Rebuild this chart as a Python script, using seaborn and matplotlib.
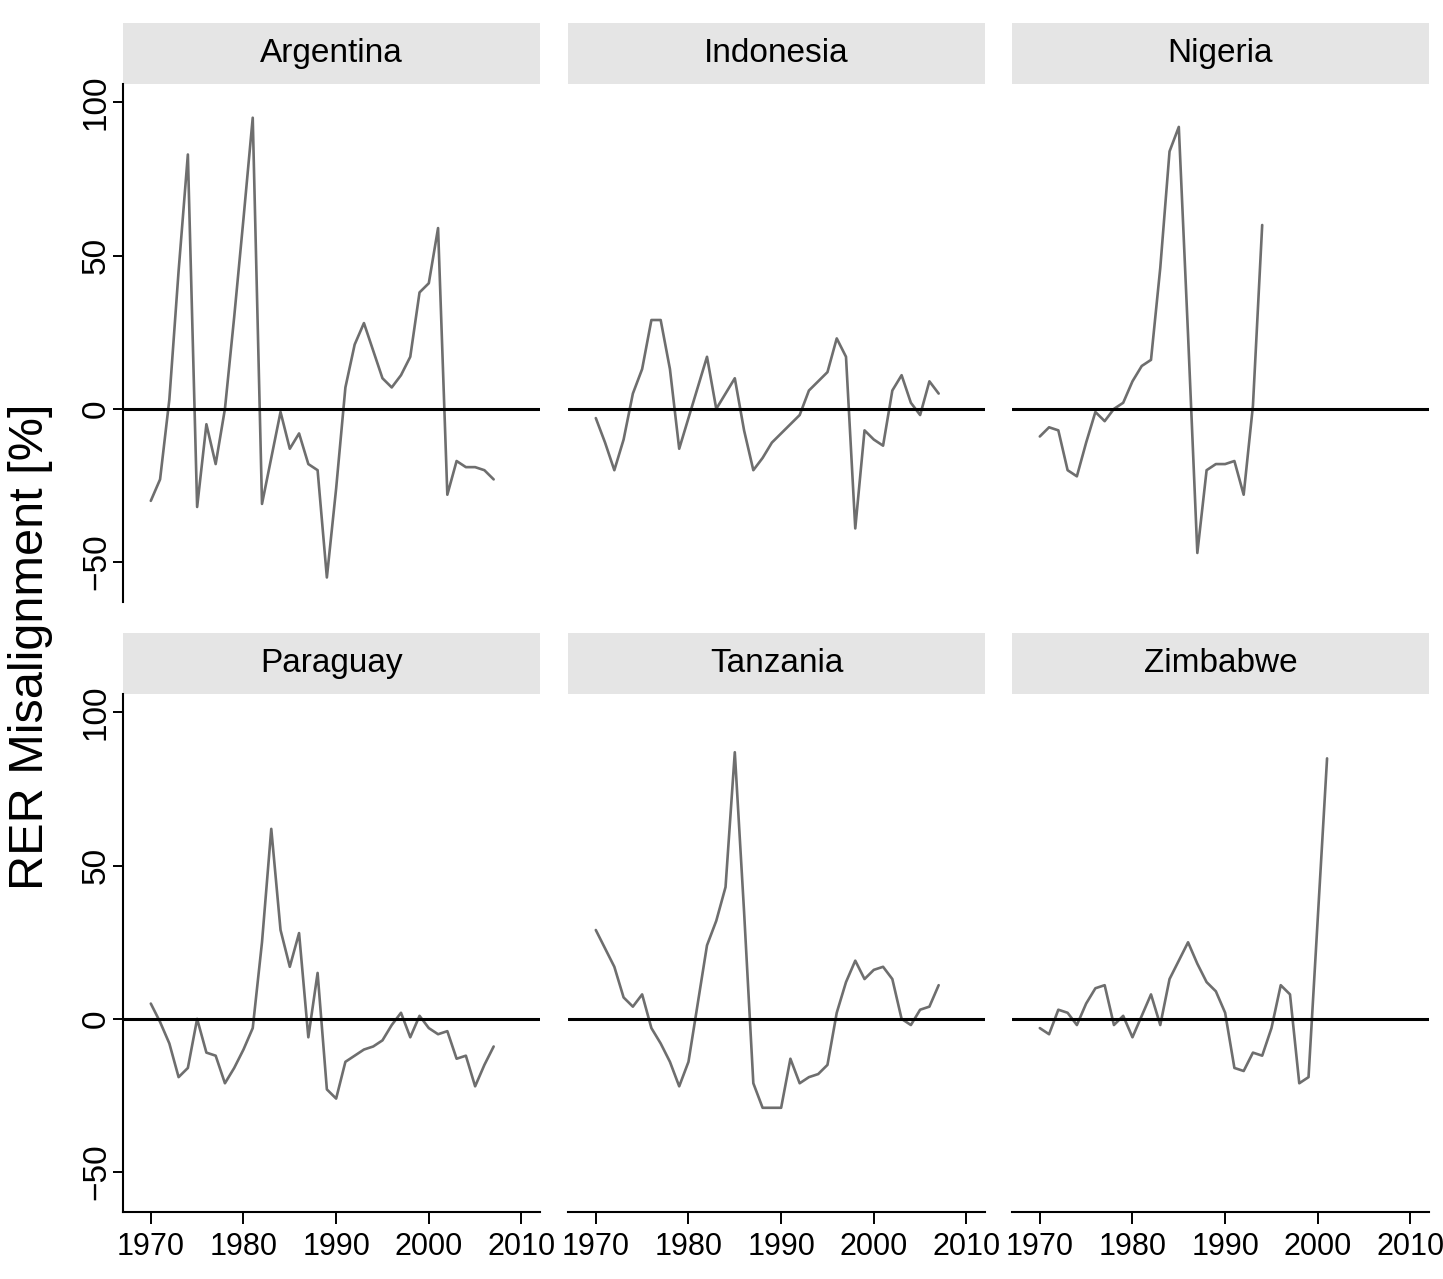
import matplotlib
matplotlib.use("Agg")
import matplotlib.pyplot as plt
from matplotlib import font_manager
from matplotlib.patches import Rectangle
import pandas as pd
import seaborn as sns

# Real exchange rate misalignment (%) by country, one value per year from 1970
countries = ["Argentina", "Indonesia", "Nigeria", "Paraguay", "Tanzania", "Zimbabwe"]
start_year = 1970

argentina = [-30, -23, 3, 45, 83, -32, -5, -18, 0, 30,
             62, 95, -31, -16, -1, -13, -8, -18, -20, -55,
             -26, 7, 21, 28, 19, 10, 7, 11, 17, 38,
             41, 59, -28, -17, -19, -19, -20, -23]
indonesia = [-3, -11, -20, -10, 5, 13, 29, 29, 13, -13,
             -3, 7, 17, 0, 5, 10, -7, -20, -16, -11,
             -8, -5, -2, 6, 9, 12, 23, 17, -39, -7,
             -10, -12, 6, 11, 2, -2, 9, 5]
nigeria = [-9, -6, -7, -20, -22, -11, -1, -4, 0, 2,
           9, 14, 16, 46, 84, 92, 24, -47, -20, -18,
           -18, -17, -28, 1, 60]
paraguay = [5, -1, -8, -19, -16, 0, -11, -12, -21, -16,
            -10, -3, 25, 62, 29, 17, 28, -6, 15, -23,
            -26, -14, -12, -10, -9, -7, -2, 2, -6, 1,
            -3, -5, -4, -13, -12, -22, -15, -9]
tanzania = [29, 23, 17, 7, 4, 8, -3, -8, -14, -22,
            -14, 5, 24, 32, 43, 87, 35, -21, -29, -29,
            -29, -13, -21, -19, -18, -15, 2, 12, 19, 13,
            16, 17, 13, 0, -2, 3, 4, 11]
zimbabwe = [-3, -5, 3, 2, -2, 5, 10, 11, -2, 1,
            -6, 1, 8, -2, 13, 19, 25, 18, 12, 9,
            2, -16, -17, -11, -12, -3, 11, 8, -21, -19,
            33, 85]

year_ticks = [1970, 1980, 1990, 2000, 2010]
value_ticks = [-50, 0, 50, 100]
y_label = "RER Misalignment [%]"

series = dict(zip(countries, [argentina, indonesia, nigeria, paraguay, tanzania, zimbabwe]))
records = []
for name, values in series.items():
    for i, v in enumerate(values):
        records.append((name, start_year + i, v))
df = pd.DataFrame(records, columns=["country", "year", "misalignment"])

sns.set_theme(style="ticks")
installed = {f.name for f in font_manager.fontManager.ttflist}
plt.rcParams["font.family"] = ["Liberation Sans", "DejaVu Sans"]
if "Liberation Sans Narrow" in installed:
    narrow_family, tick_size, strip_size = ["Liberation Sans Narrow", "Liberation Sans"], 26, 28
else:
    narrow_family, tick_size, strip_size = ["Liberation Sans", "DejaVu Sans"], 22, 24

g = sns.relplot(
    data=df, x="year", y="misalignment",
    col="country", col_wrap=3, col_order=countries,
    kind="line", color="#6e6e6e", linewidth=1.9,
    height=5, aspect=0.8,
    facet_kws=dict(sharex=True, sharey=True),
)
fig = g.figure
fig.set_size_inches(14.43, 12.79)
fig.set_dpi(100)

W, H = 1443, 1279
col_left = [123, 568, 1012]
panel_w = 417
row_top = [84, 694]
panel_h = 518
strip_h = 61

for idx, ax in enumerate(g.axes.flat):
    r, c = divmod(idx, 3)
    name = countries[idx]
    ax.set_position([col_left[c] / W, 1 - (row_top[r] + panel_h) / H,
                     panel_w / W, panel_h / H])
    ax.set_xlim(1967, 2012)
    ax.set_ylim(-63, 106)
    ax.axhline(0, color="black", linewidth=2.2, zorder=3)
    ax.set_title("")
    ax.set_xlabel("")
    ax.set_ylabel("")

    ax.spines["top"].set_visible(False)
    ax.spines["right"].set_visible(False)
    ax.spines["left"].set_visible(c == 0)
    ax.spines["bottom"].set_visible(r == 1)
    for side in ("left", "bottom"):
        ax.spines[side].set_linewidth(1.5)
        ax.spines[side].set_color("black")

    ax.set_xticks(year_ticks)
    ax.set_yticks(value_ticks)
    ax.tick_params(axis="x", bottom=(r == 1), labelbottom=(r == 1),
                   length=8.5, width=1.4, pad=6, labelsize=tick_size,
                   labelfontfamily=narrow_family, colors="black")
    ax.tick_params(axis="y", left=(c == 0), labelleft=(c == 0),
                   length=7, width=1.4, pad=1, labelsize=24,
                   labelrotation=90, colors="black")
    for lbl in ax.get_yticklabels():
        lbl.set_va("center")

    ax.add_patch(Rectangle((0, 1), 1, strip_h / panel_h, transform=ax.transAxes,
                           clip_on=False, facecolor="#e5e5e5", edgecolor="none"))
    ax.text(0.5, 1 + strip_h / 2 / panel_h, name, transform=ax.transAxes,
            ha="center", va="center", fontsize=strip_size,
            family=narrow_family, color="black")

fig.text(31 / W, 1 - 647 / H, y_label, rotation=90, ha="center", va="center",
         fontsize=35, color="black")

fig.savefig("out.png", dpi=100, facecolor="white")
